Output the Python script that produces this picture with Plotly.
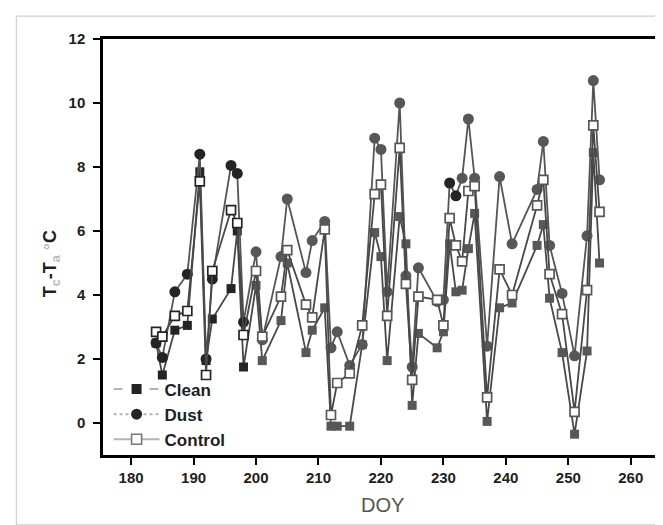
import plotly.graph_objects as go

# ---------------- data ----------------
doy = [184, 185, 187, 189, 191, 192, 193, 196, 197, 198, 200, 201, 204, 205, 208, 209,
       211, 212, 213, 215, 217, 219, 220, 221, 223, 224, 225, 226, 229, 230, 231, 232,
       233, 234, 235, 237, 239, 241, 245, 246, 247, 249, 251, 253, 254, 255]

clean = [2.5, 1.5, 2.9, 3.05, 7.85, 1.95, 3.25, 4.2, 6.0, 1.75, 4.3, 1.95, 3.2, 5.0, 2.2, 2.9,
         3.6, -0.1, -0.1, -0.1, 2.45, 5.95, 5.2, 1.95, 6.45, 5.6, 0.55, 2.8, 2.35, 2.85, 5.6, 4.1,
         4.15, 5.45, 6.55, 0.05, 3.6, 3.75, 5.55, 6.2, 3.9, 2.2, -0.35, 2.25, 8.45, 5.0]

dust = [2.5, 2.05, 4.1, 4.65, 8.4, 2.0, 4.5, 8.05, 7.8, 3.15, 5.35, 2.6, 5.2, 7.0, 4.7, 5.7,
        6.3, 2.35, 2.85, 1.8, 2.45, 8.9, 8.55, 4.1, 10.0, 4.6, 1.75, 4.85, 3.8, 3.85, 7.5, 7.1,
        7.65, 9.5, 7.65, 2.4, 7.7, 5.6, 7.3, 8.8, 5.55, 4.05, 2.1, 5.85, 10.7, 7.6]

control = [2.85, 2.7, 3.35, 3.5, 7.55, 1.5, 4.75, 6.65, 6.25, 2.75, 4.75, 2.7, 3.95, 5.4, 3.7, 3.3,
           6.05, 0.25, 1.25, 1.55, 3.05, 7.15, 7.45, 3.35, 8.6, 4.35, 1.35, 3.95, 3.85, 3.05, 6.4, 5.55,
           5.05, 7.25, 7.4, 0.8, 4.8, 4.0, 6.8, 7.6, 4.65, 3.4, 0.35, 4.15, 9.3, 6.6]

series_names = ["Clean", "Dust", "Control"]
x_ticks = [180, 190, 200, 210, 220, 230, 240, 250, 260]
y_ticks = [0, 2, 4, 6, 8, 10, 12]

# ---------------- styling ----------------
DARK = "#242424"
GRAY = "#575757"
LEG_LINE = "#b4b4b4"

def shade(d, extra_dark=()):
    return DARK if (d < 199 or d in extra_dark) else GRAY

clean_cols = [shade(d) for d in doy]
dust_cols = [shade(d, extra_dark=(231, 232)) for d in doy]
ctrl_cols = [shade(d) for d in doy]

fig = go.Figure()

fig.add_trace(go.Scatter(
    x=doy, y=clean, mode="lines+markers", showlegend=False,
    line=dict(color="#484848", width=1.8),
    marker=dict(symbol="square", size=9, color=clean_cols, line=dict(width=0))))

fig.add_trace(go.Scatter(
    x=doy, y=dust, mode="lines+markers", showlegend=False,
    line=dict(color="#555555", width=1.8),
    marker=dict(symbol="circle", size=11, color=dust_cols, line=dict(width=0))))

fig.add_trace(go.Scatter(
    x=doy, y=control, mode="lines+markers", showlegend=False,
    line=dict(color="#484848", width=1.8),
    marker=dict(symbol="square", size=9, color="white",
                line=dict(width=1.7, color=ctrl_cols))))

# legend-only entries (light line, dark marker as in the reference)
leg_styles = [
    dict(line=dict(color=LEG_LINE, width=2, dash="dash"),
         marker=dict(symbol="square", size=10, color=DARK)),
    dict(line=dict(color=LEG_LINE, width=2, dash="dot"),
         marker=dict(symbol="circle", size=11, color=DARK)),
    dict(line=dict(color=LEG_LINE, width=2),
         marker=dict(symbol="square", size=10, color="white", line=dict(width=1.6, color="#777777"))),
]
for name, st in zip(series_names, leg_styles):
    fig.add_trace(go.Scatter(x=[None], y=[None], mode="lines+markers", name=name, **st))

axis_common = dict(
    showline=True, linecolor="black", linewidth=2.5, mirror=True,
    ticks="outside", ticklen=7, tickwidth=1.5, tickcolor="black",
    showgrid=False, zeroline=False,
    tickfont=dict(family="Liberation Sans", size=15, color="#1e1e1e", weight="bold"),
)

fig.update_layout(
    width=663, height=525,
    margin=dict(l=95, r=6, t=31, b=78),
    paper_bgcolor="white", plot_bgcolor="white",
    xaxis=dict(range=[175.5, 265], tickvals=x_ticks, **axis_common),
    yaxis=dict(range=[-1, 12], tickvals=y_ticks, ticklabelstandoff=5, **axis_common),
    legend=dict(x=0.01, y=-0.006, xanchor="left", yanchor="bottom",
                bgcolor="rgba(0,0,0,0)", itemwidth=46, tracegroupgap=0,
                font=dict(family="Liberation Sans", size=17, color="#1e1e1e", weight="bold")),
    showlegend=True,
)

fig.add_annotation(
    text="DOY", xref="paper", yref="paper", x=0.5, y=-0.12,
    xanchor="center", yanchor="middle", showarrow=False,
    font=dict(family="Liberation Sans", size=20, color="#555555"))

fig.add_annotation(
    text="T<sub><span style='color:#bbbbbb'>c</span></sub>-T<sub><span style='color:#bbbbbb'>a</span></sub> "
         "<span style='color:#bbbbbb'>°</span>C",
    xref="paper", yref="paper", x=-0.092, y=0.46, textangle=-90,
    xanchor="center", yanchor="middle", showarrow=False,
    font=dict(family="Liberation Sans", size=18, color="#1e1e1e", weight="bold"))

# faint outer frame of the scanned figure
fig.add_shape(type="rect", xref="paper", yref="paper",
              x0=-0.155, x1=1.006, y0=-0.168, y1=1.055,
              line=dict(color="#d0d0d0", width=1.2), fillcolor="rgba(0,0,0,0)", layer="below")

fig.write_html("out.html")
